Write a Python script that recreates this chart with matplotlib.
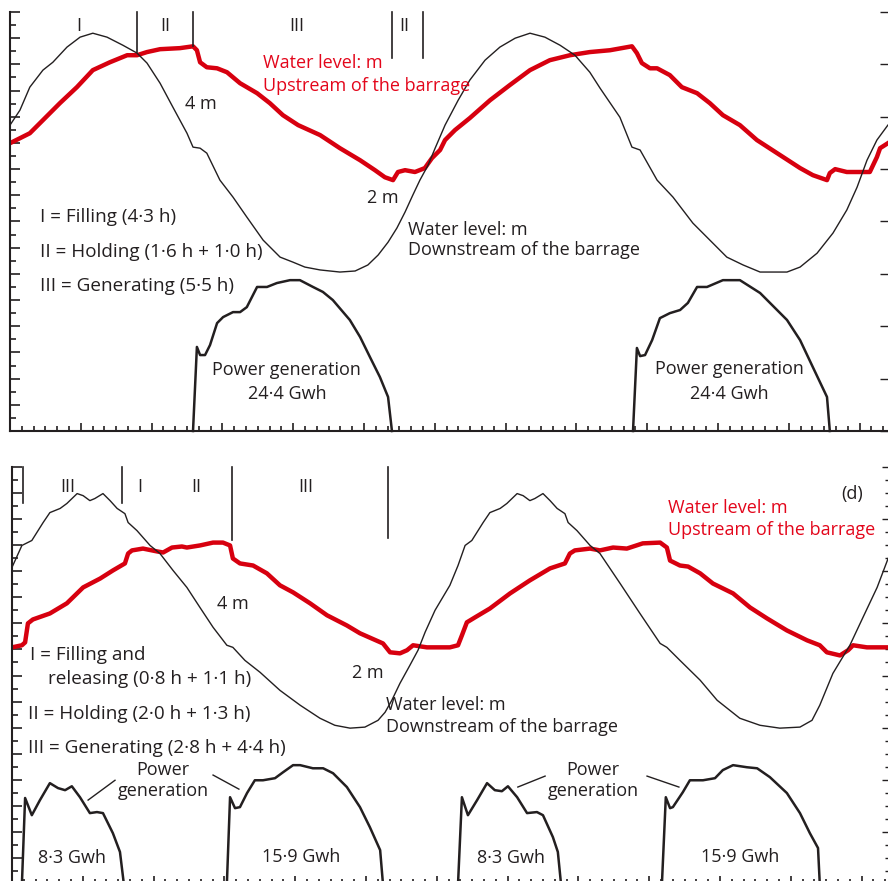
import numpy as np
import matplotlib
matplotlib.use("Agg")
import matplotlib.pyplot as plt
from matplotlib.ticker import MultipleLocator

plt.rcParams['font.family'] = ['Open Sans', 'DejaVu Sans']

# ---------------- data: panel (c) top ----------------
top_down_t = [0, 0.28, 0.56, 0.93, 1.21, 1.61, 1.98, 2.34, 2.74, 3.19, 3.59, 3.87, 4.24, 4.60, 5.00, 5.17, 5.37, 5.56,
              5.93, 6.30, 6.69, 7.15, 7.63, 7.99, 8.33, 8.76, 9.32, 9.75, 10.11, 10.40, 10.68, 10.93, 11.16, 11.38,
              11.58, 11.81, 12.01, 12.29, 12.66, 12.99, 13.42, 13.84, 14.27, 14.69, 15.11, 15.54, 15.96, 16.38, 16.67,
              17.23, 17.57, 17.80, 18.28, 18.73, 19.29, 19.77, 20.25, 20.71, 21.19, 21.95, 22.32, 22.80, 23.25, 23.64,
              23.93, 24.21, 24.49, 24.80]
top_down_h = [11.68, 12.25, 13.13, 13.78, 14.08, 14.66, 15.04, 15.19, 15.04, 14.73, 14.43, 14.05, 13.28, 12.37, 11.37,
              10.84, 10.80, 10.61, 9.58, 8.93, 8.17, 7.29, 6.64, 6.45, 6.26, 6.15, 6.07, 6.11, 6.34, 6.72, 7.21, 7.75,
              8.36, 9.01, 9.58, 10.15, 10.80, 11.68, 12.63, 13.40, 14.16, 14.66, 15.00, 15.19, 15.04, 14.73, 14.35,
              13.70, 13.09, 11.98, 10.84, 10.73, 9.58, 8.93, 7.94, 7.29, 6.64, 6.34, 6.07, 6.07, 6.26, 6.79, 7.56,
              8.44, 9.31, 10.34, 11.11, 11.68]

top_up_t = [0, 0.56, 0.93, 1.41, 1.89, 2.34, 2.82, 3.31, 3.59, 3.87, 4.24, 4.80, 5.17, 5.28, 5.37, 5.56, 5.85, 6.13,
            6.50, 6.98, 7.34, 7.71, 8.14, 8.76, 9.32, 9.89, 10.31, 10.59, 10.82, 10.96, 11.16, 11.44, 11.72, 11.92,
            12.15, 12.29, 12.57, 12.99, 13.56, 14.12, 14.69, 15.25, 15.82, 16.38, 16.95, 17.57, 17.71, 17.85, 18.08,
            18.28, 18.64, 18.98, 19.41, 19.77, 20.14, 20.62, 21.10, 21.67, 22.32, 22.68, 23.08, 23.16, 23.31, 23.64,
            24.29, 24.49, 24.58, 24.80]
top_up_h = [10.99, 11.37, 11.87, 12.52, 13.13, 13.78, 14.08, 14.35, 14.35, 14.47, 14.58, 14.62, 14.69, 14.54, 14.08,
            13.89, 13.85, 13.70, 13.28, 12.90, 12.52, 12.06, 11.68, 11.30, 10.80, 10.34, 9.96, 9.69, 9.58, 9.89, 9.96,
            9.89, 10.04, 10.42, 10.73, 11.11, 11.49, 11.95, 12.63, 13.21, 13.78, 14.16, 14.35, 14.47, 14.54, 14.69,
            14.43, 14.05, 13.85, 13.85, 13.59, 13.13, 12.90, 12.52, 12.06, 11.68, 11.11, 10.61, 10.04, 9.77, 9.58,
            9.85, 10.00, 9.89, 9.89, 10.46, 10.80, 10.99]

top_pow1_t = [5.17, 5.28, 5.37, 5.51, 5.65, 5.85, 6.02, 6.30, 6.50, 6.69, 6.98, 7.26, 7.54, 7.91, 8.19, 8.56, 8.84,
              9.12, 9.60, 9.89, 10.17, 10.45, 10.68, 10.79]
top_pow1_v = [0, 3.21, 2.90, 2.90, 3.28, 4.12, 4.35, 4.54, 4.54, 4.73, 5.50, 5.50, 5.65, 5.76, 5.76, 5.50, 5.31,
              5.00, 4.24, 3.59, 2.82, 2.06, 1.30, 0]
top_pow2_t = [17.60, 17.71, 17.80, 17.94, 18.14, 18.36, 18.64, 18.93, 19.15, 19.41, 19.69, 20.14, 20.62, 21.19,
              21.95, 22.32, 22.68, 23.08, 23.16]
top_pow2_v = [0, 3.17, 2.86, 2.90, 3.47, 4.31, 4.50, 4.62, 4.89, 5.50, 5.50, 5.76, 5.76, 5.27, 4.24, 3.47, 2.44,
              1.30, 0]

top_phase_t = [3.59, 5.17, 10.79, 11.67]
top_phase_low = [14.47, 14.69, 14.24, 14.24]
top_phase_labels = ['I', 'II', 'III', 'II']
top_phase_label_t = [1.95, 4.38, 8.11, 11.13]

# ---------------- data: panel (d) bottom ----------------
bot_down_t = [0, 0.28, 0.56, 0.88, 1.07, 1.36, 1.55, 1.84, 2.01, 2.20, 2.34, 2.57, 2.77, 2.97, 3.19, 3.28, 3.53,
              3.90, 4.18, 4.55, 4.94, 5.31, 5.68, 6.07, 6.24, 6.58, 7.01, 7.57, 8.14, 8.70, 9.12, 9.55, 9.97, 10.34,
              10.54, 10.73, 10.96, 11.24, 11.47, 11.67, 11.95, 12.37, 12.60, 12.80, 12.99, 13.31, 13.50, 13.79, 13.98,
              14.27, 14.44, 14.63, 14.77, 15.00, 15.20, 15.40, 15.62, 15.71, 15.96, 16.33, 16.61, 17.18, 17.74, 18.31,
              18.50, 18.87, 19.44, 19.92, 20.56, 21.13, 21.69, 22.26, 22.60, 22.82, 23.19, 23.67, 24.04, 24.44, 24.75]
bot_down_h = [12.15, 12.99, 13.18, 13.87, 14.25, 14.41, 14.60, 14.98, 14.90, 14.71, 14.79, 14.98, 14.71, 14.41, 14.21,
              13.87, 13.56, 12.99, 12.68, 12.03, 11.38, 10.61, 9.85, 9.16, 9.08, 8.58, 8.12, 7.43, 6.86, 6.36, 6.09,
              5.98, 6.02, 6.28, 6.59, 7.05, 7.70, 8.39, 8.97, 9.66, 10.50, 11.46, 12.22, 12.99, 13.18, 13.87, 14.25,
              14.41, 14.60, 14.98, 14.90, 14.71, 14.79, 14.98, 14.71, 14.41, 14.21, 13.87, 13.56, 12.99, 12.68, 11.53,
              10.38, 9.23, 9.08, 8.58, 7.82, 7.05, 6.36, 6.09, 5.98, 6.02, 6.28, 6.86, 8.08, 9.16, 10.23, 11.38, 12.49]

bot_up_t = [0, 0.28, 0.37, 0.45, 0.59, 1.07, 1.55, 2.01, 2.49, 2.85, 3.19, 3.28, 3.39, 3.70, 4.10, 4.27, 4.52, 4.80,
            4.94, 5.31, 5.68, 5.96, 6.16, 6.24, 6.44, 6.81, 7.20, 7.57, 7.94, 8.42, 8.90, 9.46, 9.83, 10.48, 10.68,
            10.96, 11.16, 11.33, 11.72, 12.37, 12.60, 12.71, 12.85, 13.08, 13.50, 14.07, 14.63, 15.20, 15.62, 15.76,
            15.90, 16.33, 16.61, 16.98, 17.37, 17.82, 18.31, 18.50, 18.59, 18.87, 19.10, 19.44, 19.80, 20.37, 20.85,
            21.33, 21.89, 22.46, 22.82, 23.02, 23.39, 23.62, 23.76, 24.15, 24.75]
bot_up_h = [9.08, 9.16, 9.27, 10.00, 10.15, 10.38, 10.77, 11.38, 11.72, 12.03, 12.30, 12.68, 12.80, 12.87, 12.76,
            12.72, 12.91, 12.95, 12.91, 12.99, 13.10, 13.10, 12.99, 12.49, 12.30, 12.22, 11.92, 11.46, 11.19, 10.77,
            10.31, 9.92, 9.62, 9.23, 8.89, 8.85, 8.97, 9.16, 9.08, 9.08, 9.16, 9.54, 10.04, 10.23, 10.57, 11.15, 11.65,
            12.11, 12.30, 12.68, 12.80, 12.87, 12.80, 12.91, 12.87, 13.07, 13.10, 12.91, 12.41, 12.22, 12.18, 11.92,
            11.53, 11.15, 10.61, 10.19, 9.73, 9.35, 9.16, 8.89, 8.77, 8.97, 9.16, 9.08, 9.08]

bot_powA_t = [0.28, 0.37, 0.56, 0.79, 1.07, 1.30, 1.50, 1.69, 1.92, 2.20, 2.40, 2.57, 2.85, 3.05, 3.16]
bot_powA_v = [0, 3.30, 2.64, 3.22, 3.87, 3.68, 3.60, 3.75, 3.33, 2.72, 2.76, 2.72, 1.95, 1.23, 0]
bot_powB_t = [6.07, 6.16, 6.30, 6.44, 6.64, 6.86, 7.09, 7.43, 7.66, 7.94, 8.14, 8.50, 8.79, 9.07, 9.46, 9.83, 10.11,
              10.40, 10.48]
bot_powB_v = [0, 3.33, 2.91, 2.95, 3.49, 3.98, 3.98, 4.06, 4.29, 4.56, 4.56, 4.44, 4.44, 4.25, 3.72, 2.95, 2.18,
              1.30, 0]
bot_powC_t = [12.60, 12.71, 12.88, 13.14, 13.42, 13.64, 13.84, 14.01, 14.27, 14.55, 14.83, 15.00, 15.28, 15.42, 15.51]
bot_powC_v = [0, 3.33, 2.64, 3.22, 3.87, 3.60, 3.56, 3.75, 3.33, 2.72, 2.76, 2.64, 1.80, 1.23, 0]
bot_powD_t = [18.36, 18.47, 18.59, 18.67, 18.95, 19.15, 19.52, 19.86, 20.08, 20.37, 20.76, 21.05, 21.41, 21.89,
              22.26, 22.54, 22.77, 22.82]
bot_powD_v = [0, 3.33, 2.91, 2.95, 3.52, 3.98, 3.98, 4.06, 4.37, 4.56, 4.48, 4.44, 4.10, 3.49, 2.72, 1.95, 1.38, 0]

bot_phase_t = [0.31, 3.11, 6.21, 10.62]
bot_phase_low = [14.60, 14.60, 13.18, 13.26]
bot_phase_labels = ['III', 'I', 'II', 'III']
bot_phase_label_t = [1.58, 3.62, 5.20, 8.30]

T_MAX = 24.86
H_MAX = 16.0

RED = '#d7000f'
RED_TXT = '#e3061b'
INK = '#231f20'
FS = 13
FS_KEY = 13.6

fig = plt.figure(figsize=(8.88, 8.81), dpi=100)
ax1 = fig.add_axes([10 / 888, (881 - 431) / 881, 880 / 888, 419 / 881])
ax2 = fig.add_axes([12 / 888, (881 - 884) / 881, 880 / 888, 417 / 881])


def style(ax, right_minor):
    ax.set_xlim(0, T_MAX)
    ax.set_ylim(0, H_MAX)
    ax.spines['top'].set_visible(False)
    ax.spines['right'].set_visible(False)
    for s in ('left', 'bottom'):
        ax.spines[s].set_linewidth(1.5)
        ax.spines[s].set_color(INK)
    ax.xaxis.set_major_locator(MultipleLocator(2))
    ax.xaxis.set_minor_locator(MultipleLocator(1 / 3))
    ax.yaxis.set_major_locator(MultipleLocator(1))
    ax.yaxis.set_minor_locator(MultipleLocator(0.5))
    ax.tick_params(axis='both', which='both', direction='in', labelbottom=False, labelleft=False,
                   color=INK, width=1.2)
    ax.tick_params(axis='x', which='major', length=6)
    ax.tick_params(axis='x', which='minor', length=3.5)
    ax.tick_params(axis='y', which='major', length=7, left=True, right=False)
    ax.tick_params(axis='y', which='minor', length=4.5, left=True, right=False)
    # right-hand ticks (spine lies just outside the picture)
    sec = ax.secondary_yaxis('right')
    sec.spines['right'].set_visible(False)
    sec.yaxis.set_major_locator(MultipleLocator(2))
    if right_minor:
        sec.yaxis.set_minor_locator(MultipleLocator(0.5))
    else:
        sec.yaxis.set_minor_locator(MultipleLocator(2))
    sec.tick_params(axis='y', which='both', direction='in', labelright=False, color=INK, width=1.0)
    sec.tick_params(axis='y', which='major', length=7)
    sec.tick_params(axis='y', which='minor', length=5)


style(ax1, False)
style(ax2, True)

kw = dict(fontsize=FS, color=INK, va='center')
kkw = dict(fontsize=FS_KEY, color=INK, va='center', ha='left')

# ---- top panel ----
ax1.plot(top_down_t, top_down_h, color=INK, lw=1.0, zorder=3)
ax1.plot(top_up_t, top_up_h, color=RED, lw=3.2, zorder=2, solid_joinstyle='round')
ax1.plot(top_pow1_t, top_pow1_v, color=INK, lw=1.8, clip_on=False)
ax1.plot(top_pow2_t, top_pow2_v, color=INK, lw=1.8, clip_on=False)
for t, lo in zip(top_phase_t, top_phase_low):
    ax1.plot([t, t], [lo, H_MAX], color=INK, lw=1.2, clip_on=False)
for lab, t in zip(top_phase_labels, top_phase_label_t):
    ax1.text(t, 15.45, lab, ha='center', **kw)

ax1.text(7.15, 14.05, 'Water level: m', ha='left', fontsize=FS, color=RED_TXT, va='center')
ax1.text(7.15, 13.17, 'Upstream of the barrage', ha='left', fontsize=FS, color=RED_TXT, va='center')
ax1.text(5.40, 12.48, '4 m', ha='center', **kw)
ax1.text(10.54, 8.89, '2 m', ha='center', **kw)
ax1.text(11.24, 7.67, 'Water level: m', ha='left', **kw)
ax1.text(11.24, 6.91, 'Downstream of the barrage', ha='left', **kw)
ax1.text(0.85, 8.17, 'I = Filling (4·3 h)', **kkw)
ax1.text(0.85, 6.83, 'II = Holding (1·6 h + 1·0 h)', **kkw)
ax1.text(0.85, 5.53, 'III = Generating (5·5 h)', **kkw)
ax1.text(7.82, 2.33, 'Power generation', ha='center', **kw)
ax1.text(7.82, 1.41, '24·4 Gwh', ha='center', **kw)
ax1.text(20.31, 2.37, 'Power generation', ha='center', **kw)
ax1.text(20.31, 1.41, '24·4 Gwh', ha='center', **kw)

# ---- bottom panel ----
ax2.plot(bot_down_t, bot_down_h, color=INK, lw=1.0, zorder=3)
ax2.plot(bot_up_t, bot_up_h, color=RED, lw=3.2, zorder=2, solid_joinstyle='round')
for tt, vv in ((bot_powA_t, bot_powA_v), (bot_powB_t, bot_powB_v),
               (bot_powC_t, bot_powC_v), (bot_powD_t, bot_powD_v)):
    ax2.plot(tt, vv, color=INK, lw=1.8, clip_on=False)
for t, lo in zip(bot_phase_t, bot_phase_low):
    ax2.plot([t, t], [lo, H_MAX], color=INK, lw=1.2, clip_on=False)
for lab, t in zip(bot_phase_labels, bot_phase_label_t):
    ax2.text(t, 15.22, lab, ha='center', **kw)

ax2.text(23.73, 14.98, '(d)', ha='center', **kw)
ax2.text(18.53, 14.44, 'Water level: m', ha='left', fontsize=FS, color=RED_TXT, va='center')
ax2.text(18.53, 13.60, 'Upstream of the barrage', ha='left', fontsize=FS, color=RED_TXT, va='center')
ax2.text(6.24, 10.73, '4 m', ha='center', **kw)
ax2.text(10.06, 8.08, '2 m', ha='center', **kw)
ax2.text(10.56, 6.86, 'Water level: m', ha='left', **kw)
ax2.text(10.56, 6.02, 'Downstream of the barrage', ha='left', **kw)
ax2.text(0.50, 8.77, 'I = Filling and', **kkw)
ax2.text(1.02, 7.85, 'releasing (0·8 h + 1·1 h)', **kkw)
ax2.text(0.45, 6.51, 'II = Holding (2·0 h + 1·3 h)', **kkw)
ax2.text(0.45, 5.21, 'III = Generating (2·8 h + 4·4 h)', **kkw)
for tc in (4.27, 16.41):
    ax2.text(tc, 4.36, 'Power', ha='center', **kw)
    ax2.text(tc, 3.55, 'generation', ha='center', **kw)
ax2.plot([2.91, 2.15], [3.98, 3.22], color=INK, lw=1.0)
ax2.plot([5.68, 6.41], [4.18, 3.64], color=INK, lw=1.0)
ax2.plot([15.06, 14.29], [4.14, 3.72], color=INK, lw=1.0)
ax2.plot([17.94, 18.84], [4.14, 3.72], color=INK, lw=1.0)
ax2.text(1.69, 1.00, '8·3 Gwh', ha='center', **kw)
ax2.text(8.16, 1.03, '15·9 Gwh', ha='center', **kw)
ax2.text(14.10, 1.00, '8·3 Gwh', ha='center', **kw)
ax2.text(20.56, 1.03, '15·9 Gwh', ha='center', **kw)

fig.savefig('out.png', dpi=100)
